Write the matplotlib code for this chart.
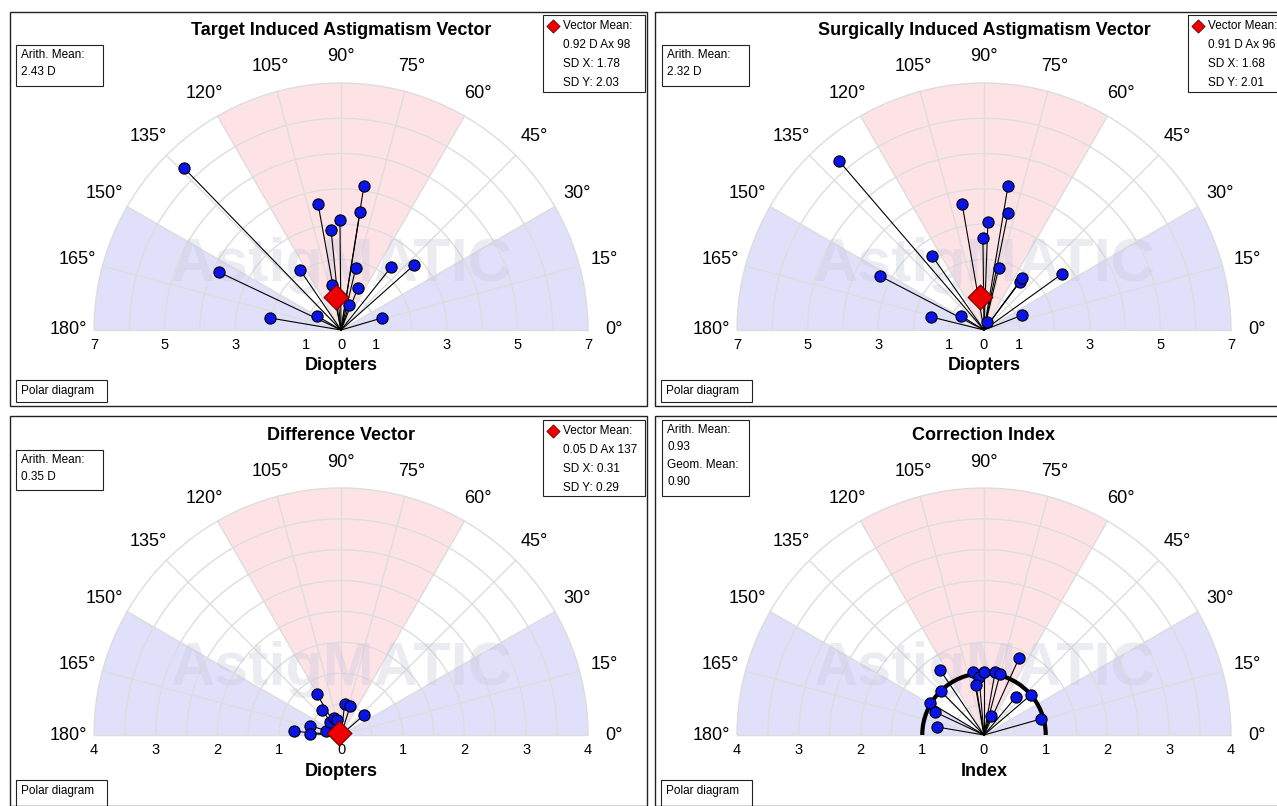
import matplotlib
matplotlib.use("Agg")
import matplotlib.pyplot as plt
from matplotlib.patches import Wedge, Rectangle, Arc
import numpy as np

plt.rcParams['font.family'] = ['Liberation Sans', 'DejaVu Sans']

W, H = 1277, 806

# ---- data (x, y in units) ----
tia_x = [-4.45,-3.46,-2.01,-1.16,-0.68,-0.65,-0.28,-0.25,-0.03,0.23,0.42,0.48,0.54,0.65,1.42,2.07,1.16]
tia_y = [4.59,1.64,0.34,1.70,0.40,3.57,2.83,1.27,3.12,0.71,1.76,1.19,3.34,4.08,1.78,1.84,0.34]
tia_mean = (-0.14, 0.93)
sia_x = [-4.11,-2.95,-1.50,-1.47,-0.65,-0.62,-0.03,0.11,0.08,0.42,0.68,0.68,1.02,1.08,1.08,2.21]
sia_y = [4.79,1.53,0.37,2.10,0.40,3.57,2.61,3.06,0.23,1.76,4.08,3.31,1.36,1.47,0.42,1.59]
sia_mean = (-0.11, 0.93)
dv_x = [-0.76,-0.50,-0.50,-0.39,-0.31,-0.24,-0.18,-0.11,-0.06,0.06,0.15,0.37]
dv_y = [0.06,0.15,0.02,0.66,0.40,0.06,0.21,0.28,0.24,0.50,0.47,0.32]
dv_mean = (-0.04, 0.03)
ci_x = [-0.71,-0.70,-0.87,-0.79,-0.76,-0.18,-0.08,0.0,0.18,0.26,-0.13,0.11,0.57,0.52,0.76,0.92]
ci_y = [1.05,0.71,0.52,0.37,0.13,1.02,0.94,1.02,1.02,0.99,0.81,0.31,1.25,0.62,0.65,0.26]

panels = [
    dict(frame=(10,12,647,406), c=(341,330), R=7, ticks=[7,5,3,1,0,1,3,5,7], tickpos=[-7,-5,-3,-1,0,1,3,5,7],
         rings=np.arange(1,8,1.0), title="Target Induced Astigmatism Vector", xlabel="Diopters",
         x=tia_x, y=tia_y, mean=tia_mean, info="Arith. Mean:\n2.43 D", infobox=(16,45,103,86),
         leg=["Vector Mean:","0.92 D Ax 98","SD X: 1.78","SD Y: 2.03"], legbox=(543,15,645,92), ci=False),
    dict(frame=(655,12,1300,406), c=(984,330), R=7, ticks=[7,5,3,1,0,1,3,5,7], tickpos=[-7,-5,-3,-1,0,1,3,5,7],
         rings=np.arange(1,8,1.0), title="Surgically Induced Astigmatism Vector", xlabel="Diopters",
         x=sia_x, y=sia_y, mean=sia_mean, info="Arith. Mean:\n2.32 D", infobox=(662,45,749,86),
         leg=["Vector Mean:","0.91 D Ax 96","SD X: 1.68","SD Y: 2.01"], legbox=(1188,15,1290,92), ci=False),
    dict(frame=(10,416,647,806), c=(341,735), R=4, ticks=[4,3,2,1,0,1,2,3,4], tickpos=[-4,-3,-2,-1,0,1,2,3,4],
         rings=np.arange(0.5,4.01,0.5), title="Difference Vector", xlabel="Diopters",
         x=dv_x, y=dv_y, mean=dv_mean, info="Arith. Mean:\n0.35 D", infobox=(16,450,103,490),
         leg=["Vector Mean:","0.05 D Ax 137","SD X: 0.31","SD Y: 0.29"], legbox=(543,420,645,496), ci=False),
    dict(frame=(655,416,1300,806), c=(984,735), R=4, ticks=[4,3,2,1,0,1,2,3,4], tickpos=[-4,-3,-2,-1,0,1,2,3,4],
         rings=np.arange(0.5,4.01,0.5), title="Correction Index", xlabel="Index",
         x=ci_x, y=ci_y, mean=None, info="Arith. Mean:\n0.93\nGeom. Mean:\n0.90", infobox=(662,420,749,496),
         leg=None, legbox=None, ci=True),
]

fig = plt.figure(figsize=(W/100, H/100), dpi=100)
fig.patch.set_facecolor("white")
bg = fig.add_axes([0,0,1,1]); bg.set_xlim(0,W); bg.set_ylim(H,0); bg.axis("off")

def box(x0,y0,x1,y1,lw=1.0):
    bg.add_patch(Rectangle((x0,y0),x1-x0,y1-y0,fill=False,ec="#222222",lw=lw))

for p in panels:
    box(*p["frame"], lw=1.0)
    cx, cy = p["c"]; R = p["R"]; s = 247.0/R
    xl = (-(cx-p["frame"][0])/s, (p["frame"][2]-cx)/s)
    yl = (-(p["frame"][3]-cy)/s, (cy-p["frame"][1])/s)
    l = p["frame"][0]/W; b = 1-p["frame"][3]/H
    ax = fig.add_axes([l, b, (p["frame"][2]-p["frame"][0])/W, (p["frame"][3]-p["frame"][1])/H])
    ax.set_xlim(*xl); ax.set_ylim(*yl); ax.axis("off"); ax.patch.set_alpha(0)
    ax.add_patch(Wedge((0,0),R,60,120,fc="#fde3e6",ec="none"))
    ax.add_patch(Wedge((0,0),R,0,30,fc="#e0e0fa",ec="none"))
    ax.add_patch(Wedge((0,0),R,150,180,fc="#e0e0fa",ec="none"))
    for r in p["rings"]:
        ax.add_patch(Arc((0,0),2*r,2*r,theta1=0,theta2=180,ec="#dddddd",lw=1))
    for a in range(0,181,15):
        t = np.radians(a)
        ax.plot([0,R*np.cos(t)],[0,R*np.sin(t)],color="#dddddd",lw=1,zorder=1)
        lr = R + 26/s
        ax.text(lr*np.cos(t), lr*np.sin(t), f"{a}°", ha="center", va="center", fontsize=13,
                color="black")
    ax.text(0, 65/s, "AstigMATIC", ha="center", va="center", fontsize=44, fontweight="bold",
            color="#c8c8dc", alpha=0.35, zorder=2)
    for tp, tl in zip(p["tickpos"], p["ticks"]):
        ax.text(tp, -15/s, str(tl), ha="center", va="center", fontsize=10.5, color="black")
    ax.text(0, -36/s, p["xlabel"], ha="center", va="center", fontsize=13, fontweight="bold")
    ax.text(0, (cy-p["frame"][1]-19)/s, p["title"], ha="center", va="center", fontsize=13, fontweight="bold")
    if p["ci"]:
        ax.add_patch(Arc((0,0),2,2,theta1=0,theta2=180,ec="black",lw=3,zorder=4))
    for x, y in zip(p["x"], p["y"]):
        ax.plot([0,x],[0,y],color="black",lw=0.8,zorder=5)
    ax.scatter(p["x"], p["y"], s=65, c="#0a14e6", edgecolors="black", linewidths=0.8, zorder=6)
    if p["mean"] is not None:
        ax.scatter([p["mean"][0]],[p["mean"][1]], marker="D", s=160, c="#ee0000",
                   edgecolors="#660000", linewidths=0.8, zorder=7)
    x0,y0,x1,y1 = p["infobox"]; box(x0,y0,x1,y1,lw=0.8)
    bg.text(x0+5, y0+4, p["info"], ha="left", va="top", fontsize=8.5, linespacing=1.6)
    fx0, fy0, fx1, fy1 = p["frame"]
    box(fx0+6, fy1-26, fx0+97, fy1-4 if fy1 < 806 else fy1+2, lw=0.8)
    bg.text(fx0+11, fy1-15, "Polar diagram", ha="left", va="center", fontsize=8.5)
    if p["leg"]:
        x0,y0,x1,y1 = p["legbox"]; box(x0,y0,x1,y1,lw=0.8)
        bg.scatter([x0+10],[y0+11], marker="D", s=45, c="#ee0000", edgecolors="#660000", linewidths=0.6)
        bg.text(x0+20, y0+11, p["leg"][0], ha="left", va="center", fontsize=8.5)
        for i, t in enumerate(p["leg"][1:]):
            bg.text(x0+20, y0+30+i*19, t, ha="left", va="center", fontsize=8.5)

fig.savefig("out.png", dpi=100)
